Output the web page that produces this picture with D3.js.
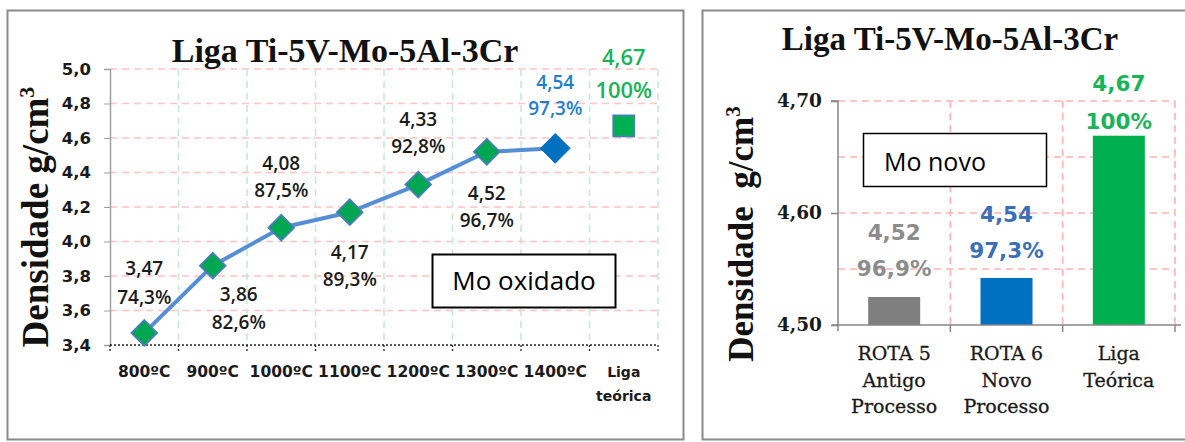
<!DOCTYPE html>
<html><head><meta charset="utf-8">
<script src="https://cdn.jsdelivr.net/npm/d3@7"></script>
<style>html,body{margin:0;padding:0;background:#fff;}svg{display:block;}</style>
</head><body>
<svg id="c" width="1185" height="442"></svg>
<script>
// ---------- data ----------
const title = "Liga Ti-5V-Mo-5Al-3Cr";
const lineCategories = ["800ºC","900ºC","1000ºC","1100ºC","1200ºC","1300ºC","1400ºC","Liga|teórica"];
const lineValues = [3.47, 3.86, 4.08, 4.17, 4.33, 4.52, 4.54, 4.67];
const linePercents = ["74,3%","82,6%","87,5%","89,3%","92,8%","96,7%","97,3%","100%"];
const lineYTicks = [3.4, 3.6, 3.8, 4.0, 4.2, 4.4, 4.6, 4.8, 5.0];
const lineNote = "Mo oxidado";

const barCategories = ["ROTA 5|Antigo|Processo","ROTA 6|Novo|Processo","Liga|Teórica"];
const barValues = [4.525, 4.542, 4.669];
const barValueLabels = ["4,52","4,54","4,67"];
const barPercents = ["96,9%","97,3%","100%"];
const barYTicks = [4.50, 4.60, 4.70];
const barGridTicks = [4.55, 4.60, 4.65, 4.70];
const barNote = "Mo novo";

// ---------- layout / style ----------
const fmt = (v, d) => v.toFixed(d).replace(".", ",");
const svg = d3.select("#c");
const SANS = "'DejaVu Sans', sans-serif";
const OPEN = "'Open Sans', sans-serif";
const SERIF = "'Liberation Serif', serif";
const BORDER = "#8a8a8a";

// panels
svg.append("rect").attr("x",7.5).attr("y",10.5).attr("width",676).attr("height",429)
  .attr("fill","#fff").attr("stroke",BORDER).attr("stroke-width",2);
svg.append("rect").attr("x",702.5).attr("y",10.5).attr("width",500).attr("height",429)
  .attr("fill","#fff").attr("stroke",BORDER).attr("stroke-width",2);

// ================= LEFT: line chart =================
{
  const L = {left:110, right:658, top:69, bottom:345};
  const x = d3.scaleBand().domain(lineCategories).range([L.left, L.right]);
  const y = d3.scaleLinear().domain([3.4, 5.0]).range([L.bottom, L.top]);
  const g = svg.append("g");

  // horizontal grid
  g.selectAll(".hg").data(lineYTicks.filter(t => t > 3.4)).join("line")
    .attr("x1", L.left).attr("x2", L.right)
    .attr("y1", d => y(d)).attr("y2", d => y(d))
    .attr("stroke", "#ffc4c4").attr("stroke-width", 1.6).attr("stroke-dasharray", "7,5");
  // vertical grid
  const bounds = lineCategories.map(c => x(c) + x.bandwidth());
  g.selectAll(".vg").data(bounds).join("line")
    .attr("x1", d => d).attr("x2", d => d)
    .attr("y1", L.top).attr("y2", L.bottom)
    .attr("stroke", "#c2ecd3").attr("stroke-width", 1.6).attr("stroke-dasharray", "7,5");

  // y axis
  const ya = d3.axisLeft(y).tickValues(lineYTicks).tickFormat(d => fmt(d,1)).tickSize(6).tickPadding(13);
  const yg = g.append("g").attr("transform", `translate(${L.left},0)`).call(ya);
  yg.select(".domain").attr("stroke", "#a0a0a0").attr("stroke-width", 1.5);
  yg.selectAll(".tick line").attr("stroke", "#a0a0a0");
  yg.selectAll(".tick text").attr("font-family", SANS).attr("font-weight", "bold")
    .attr("font-size", 16.5).attr("fill", "#1a1a1a");

  // x axis (dotted)
  g.append("line").attr("x1", L.left).attr("x2", L.right).attr("y1", L.bottom).attr("y2", L.bottom)
    .attr("stroke", "#222").attr("stroke-width", 1.3).attr("stroke-dasharray", "2,2");
  g.selectAll(".xt").data([L.left].concat(bounds)).join("line")
    .attr("x1", d => d).attr("x2", d => d).attr("y1", L.bottom).attr("y2", L.bottom + 6)
    .attr("stroke", "#222").attr("stroke-width", 1.3).attr("stroke-dasharray", "2,2");
  // x labels
  lineCategories.forEach(c => {
    const parts = c.split("|");
    const t = g.append("text").attr("x", x(c) + x.bandwidth()/2).attr("y", 377)
      .attr("text-anchor", "middle").attr("font-family", SANS).attr("font-weight", "bold")
      .attr("font-size", parts.length > 1 ? 14 : 15.5).attr("fill", "#1a1a1a");
    parts.forEach((p, i) => t.append("tspan").attr("x", x(c) + x.bandwidth()/2)
      .attr("dy", i === 0 ? 0 : 24).text(p));
  });

  // line (first 7 points)
  const cx = c => x(c) + x.bandwidth()/2;
  const lineData = lineCategories.slice(0, 7).map((c, i) => [cx(c), y(lineValues[i])]);
  g.append("path").attr("d", d3.line()(lineData)).attr("fill", "none")
    .attr("stroke", "#558ed5").attr("stroke-width", 4).attr("stroke-linejoin", "round");

  // markers
  lineCategories.forEach((c, i) => {
    const px = cx(c), py = y(lineValues[i]);
    if (i < 6) {
      g.append("path").attr("d", d3.symbol(d3.symbolDiamond2, 420)())
        .attr("transform", `translate(${px},${py})`)
        .attr("fill", "#00a650").attr("stroke", "#4a7ebb").attr("stroke-width", 1.8);
    } else if (i === 6) {
      g.append("path").attr("d", d3.symbol(d3.symbolDiamond2, 560)())
        .attr("transform", `translate(${px},${py})`)
        .attr("fill", "#0070c0").attr("stroke", "#0070c0").attr("stroke-width", 1);
    } else {
      g.append("rect").attr("x", px - 10.5).attr("y", py - 10.5).attr("width", 21).attr("height", 21)
        .attr("fill", "#00b050").attr("stroke", "#4a7ebb").attr("stroke-width", 1.8);
    }
  });

  // data labels: [dx, dy line1, dy line2]
  const place = [[0,-65,-36],[26,29,57],[0,-65,-38],[0,40,67],[0,-65,-38],[0,41,68],[0,-66,-40],[0,-69,-36]];
  const colors = ["#1a1a1a","#1a1a1a","#1a1a1a","#1a1a1a","#1a1a1a","#1a1a1a","#1e7fcb","#19b35a"];
  lineCategories.forEach((c, i) => {
    const px = cx(c) + place[i][0], py = y(lineValues[i]);
    const fs = i === 7 ? 22 : 19;
    [fmt(lineValues[i], 2), linePercents[i]].forEach((s, k) => {
      g.append("text").attr("x", px).attr("y", py + place[i][k+1])
        .attr("dy", "0.36em").attr("text-anchor", "middle")
        .attr("font-family", OPEN).attr("font-weight", 600).attr("font-size", fs)
        .attr("fill", colors[i]).text(s);
    });
  });

  // note box
  g.append("rect").attr("x", 432.5).attr("y", 254.5).attr("width", 183).attr("height", 53)
    .attr("fill", "#fff").attr("stroke", "#000").attr("stroke-width", 2);
  g.append("text").attr("x", 524).attr("y", 281).attr("dy", "0.36em").attr("text-anchor", "middle")
    .attr("font-family", OPEN).attr("font-size", 26).attr("fill", "#000").text(lineNote);

  // title
  g.append("text").attr("x", 345).attr("y", 62).attr("text-anchor", "middle")
    .attr("font-family", SERIF).attr("font-weight", "bold").attr("font-size", 34).attr("fill", "#111").text(title);
  // y title
  const yt = g.append("text").attr("transform", "translate(48,217) rotate(-90)").attr("text-anchor", "middle")
    .attr("font-family", SERIF).attr("font-weight", "bold").attr("font-size", 37).attr("fill", "#111");
  yt.append("tspan").text("Densidade g/cm");
  yt.append("tspan").attr("font-size", 22).attr("dy", -14).text("3");
}

// ================= RIGHT: bar chart =================
{
  const R = {left:838, right:1175, top:101, bottom:325};
  const x = d3.scaleBand().domain(barCategories).range([R.left, R.right]).paddingInner(0).paddingOuter(0);
  const y = d3.scaleLinear().domain([4.50, 4.70]).range([R.bottom, R.top]);
  const g = svg.append("g");

  // grid
  g.selectAll(".hg").data(barGridTicks).join("line")
    .attr("x1", R.left).attr("x2", R.right).attr("y1", d => y(d)).attr("y2", d => y(d))
    .attr("stroke", "#ffb3b3").attr("stroke-width", 1.6).attr("stroke-dasharray", "7,5");
  const bounds = barCategories.map(c => x(c) + x.bandwidth());
  g.selectAll(".vg").data(bounds).join("line")
    .attr("x1", d => d).attr("x2", d => d).attr("y1", R.top).attr("y2", R.bottom)
    .attr("stroke", "#ffb3b3").attr("stroke-width", 1.6).attr("stroke-dasharray", "7,5");

  // bars
  const bw = 52;
  g.selectAll(".bar").data(barValues).join("rect")
    .attr("x", (d, i) => x(barCategories[i]) + x.bandwidth()/2 - bw/2)
    .attr("width", bw).attr("y", d => y(d)).attr("height", d => y(4.50) - y(d))
    .attr("fill", (d, i) => ["#7f7f7f","#0070c0","#00b050"][i]);

  // y axis
  const ya = d3.axisLeft(y).tickValues(barYTicks).tickFormat(d => fmt(d,2)).tickSize(7).tickPadding(9);
  const yg = g.append("g").attr("transform", `translate(${R.left},0)`).call(ya);
  yg.select(".domain").attr("stroke", "#868686").attr("stroke-width", 1.5).attr("d", `M-7,${R.top}H0V${R.bottom + 6}`);
  yg.selectAll(".tick line").attr("stroke", "#868686").attr("stroke-width", 1.5);
  yg.selectAll(".tick text").attr("font-family", "'DejaVu Serif', serif").attr("font-weight", "bold")
    .attr("font-size", 18.5).attr("fill", "#1a1a1a");

  // x axis
  g.append("line").attr("x1", R.left - 6).attr("x2", R.right + 6).attr("y1", R.bottom).attr("y2", R.bottom)
    .attr("stroke", "#868686").attr("stroke-width", 1.5);
  g.selectAll(".xt").data(bounds).join("line")
    .attr("x1", d => d).attr("x2", d => d).attr("y1", R.bottom).attr("y2", R.bottom + 7)
    .attr("stroke", "#868686").attr("stroke-width", 1.5);
  barCategories.forEach(c => {
    const cxp = x(c) + x.bandwidth()/2;
    const t = g.append("text").attr("x", cxp).attr("y", 360).attr("text-anchor", "middle")
      .attr("font-family", "'DejaVu Serif', serif").attr("font-size", 19).attr("fill", "#1a1a1a")
      .attr("stroke", "#1a1a1a").attr("stroke-width", 0.3);
    c.split("|").forEach((p, i) => t.append("tspan").attr("x", cxp).attr("dy", i === 0 ? 0 : 26.5).text(p));
  });

  // data labels
  const lblY = [[232,268],[214,250],[83,121]];
  const lblC = ["#8c8c8c","#3b6fb6","#19b35a"];
  barCategories.forEach((c, i) => {
    const cxp = x(c) + x.bandwidth()/2;
    [barValueLabels[i], barPercents[i]].forEach((s, k) => {
      g.append("text").attr("x", cxp).attr("y", lblY[i][k]).attr("dy", "0.36em").attr("text-anchor", "middle")
        .attr("font-family", SANS).attr("font-weight", "bold").attr("font-size", 21.5)
        .attr("fill", lblC[i]).text(s);
    });
  });

  // note box
  g.append("rect").attr("x", 863.5).attr("y", 133.5).attr("width", 183).attr("height", 53)
    .attr("fill", "#fff").attr("stroke", "#000").attr("stroke-width", 1.5);
  g.append("text").attr("x", 884).attr("y", 162).attr("dy", "0.36em")
    .attr("font-family", OPEN).attr("font-size", 25).attr("fill", "#000").text(barNote);

  // title
  g.append("text").attr("x", 950).attr("y", 50).attr("text-anchor", "middle")
    .attr("font-family", SERIF).attr("font-weight", "bold").attr("font-size", 33).attr("fill", "#111").text(title);
  const yt = g.append("text").attr("transform", "translate(753,234) rotate(-90)").attr("text-anchor", "middle")
    .attr("font-family", SERIF).attr("font-weight", "bold").attr("font-size", 35).attr("fill", "#111")
    .style("white-space", "pre");
  yt.append("tspan").text("Densidade  g/cm");
  yt.append("tspan").attr("font-size", 21).attr("dy", -13).text("3");
}
</script>
</body></html>
